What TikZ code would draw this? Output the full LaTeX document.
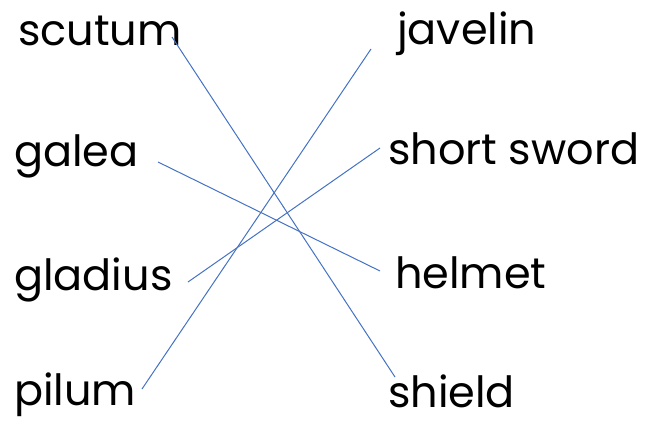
\documentclass[tikz,border=0pt]{standalone}
\usepackage{fontspec}
\setmainfont{Poppins}
\usepackage{xcolor}
\usetikzlibrary{calc}
\definecolor{linkblue}{RGB}{68,114,196}

\begin{document}
\begin{tikzpicture}[
  x=1pt, y=1pt,
  word/.style={anchor=base west, inner sep=0pt, font=\fontsize{43}{47}\selectfont},
  link/.style={draw=linkblue, line width=1pt}
]
\useasboundingbox (0,0) rectangle (659,421);

% Latin words
\node[word] (scutum) at (18,375) {scutum};
\node[word] (galea) at (14,254) {galea};
\node[word] (gladius) at (14,131) {gladius};
\node[word] (pilum) at (14,16) {pilum};

% English words
\node[word] (javelin) at (397,376) {javelin};
\node[word] (sword) at (388,256) {short sword};
\node[word] (helmet) at (395,133) {helmet};
\node[word] (shield) at (388,14) {shield};

% Matching lines
\draw[link] ($(scutum.base west)+(154,9)$) -- ($(shield.base west)+(7,30)$);
\draw[link] ($(galea.base west)+(144,5)$) -- ($(helmet.base west)+(-15,17)$);
\draw[link] ($(gladius.base west)+(174,8)$) -- ($(sword.base west)+(-8,17)$);
\draw[link] ($(pilum.base west)+(128,16)$) -- ($(javelin.base west)+(-26,-4)$);

\end{tikzpicture}
\end{document}
